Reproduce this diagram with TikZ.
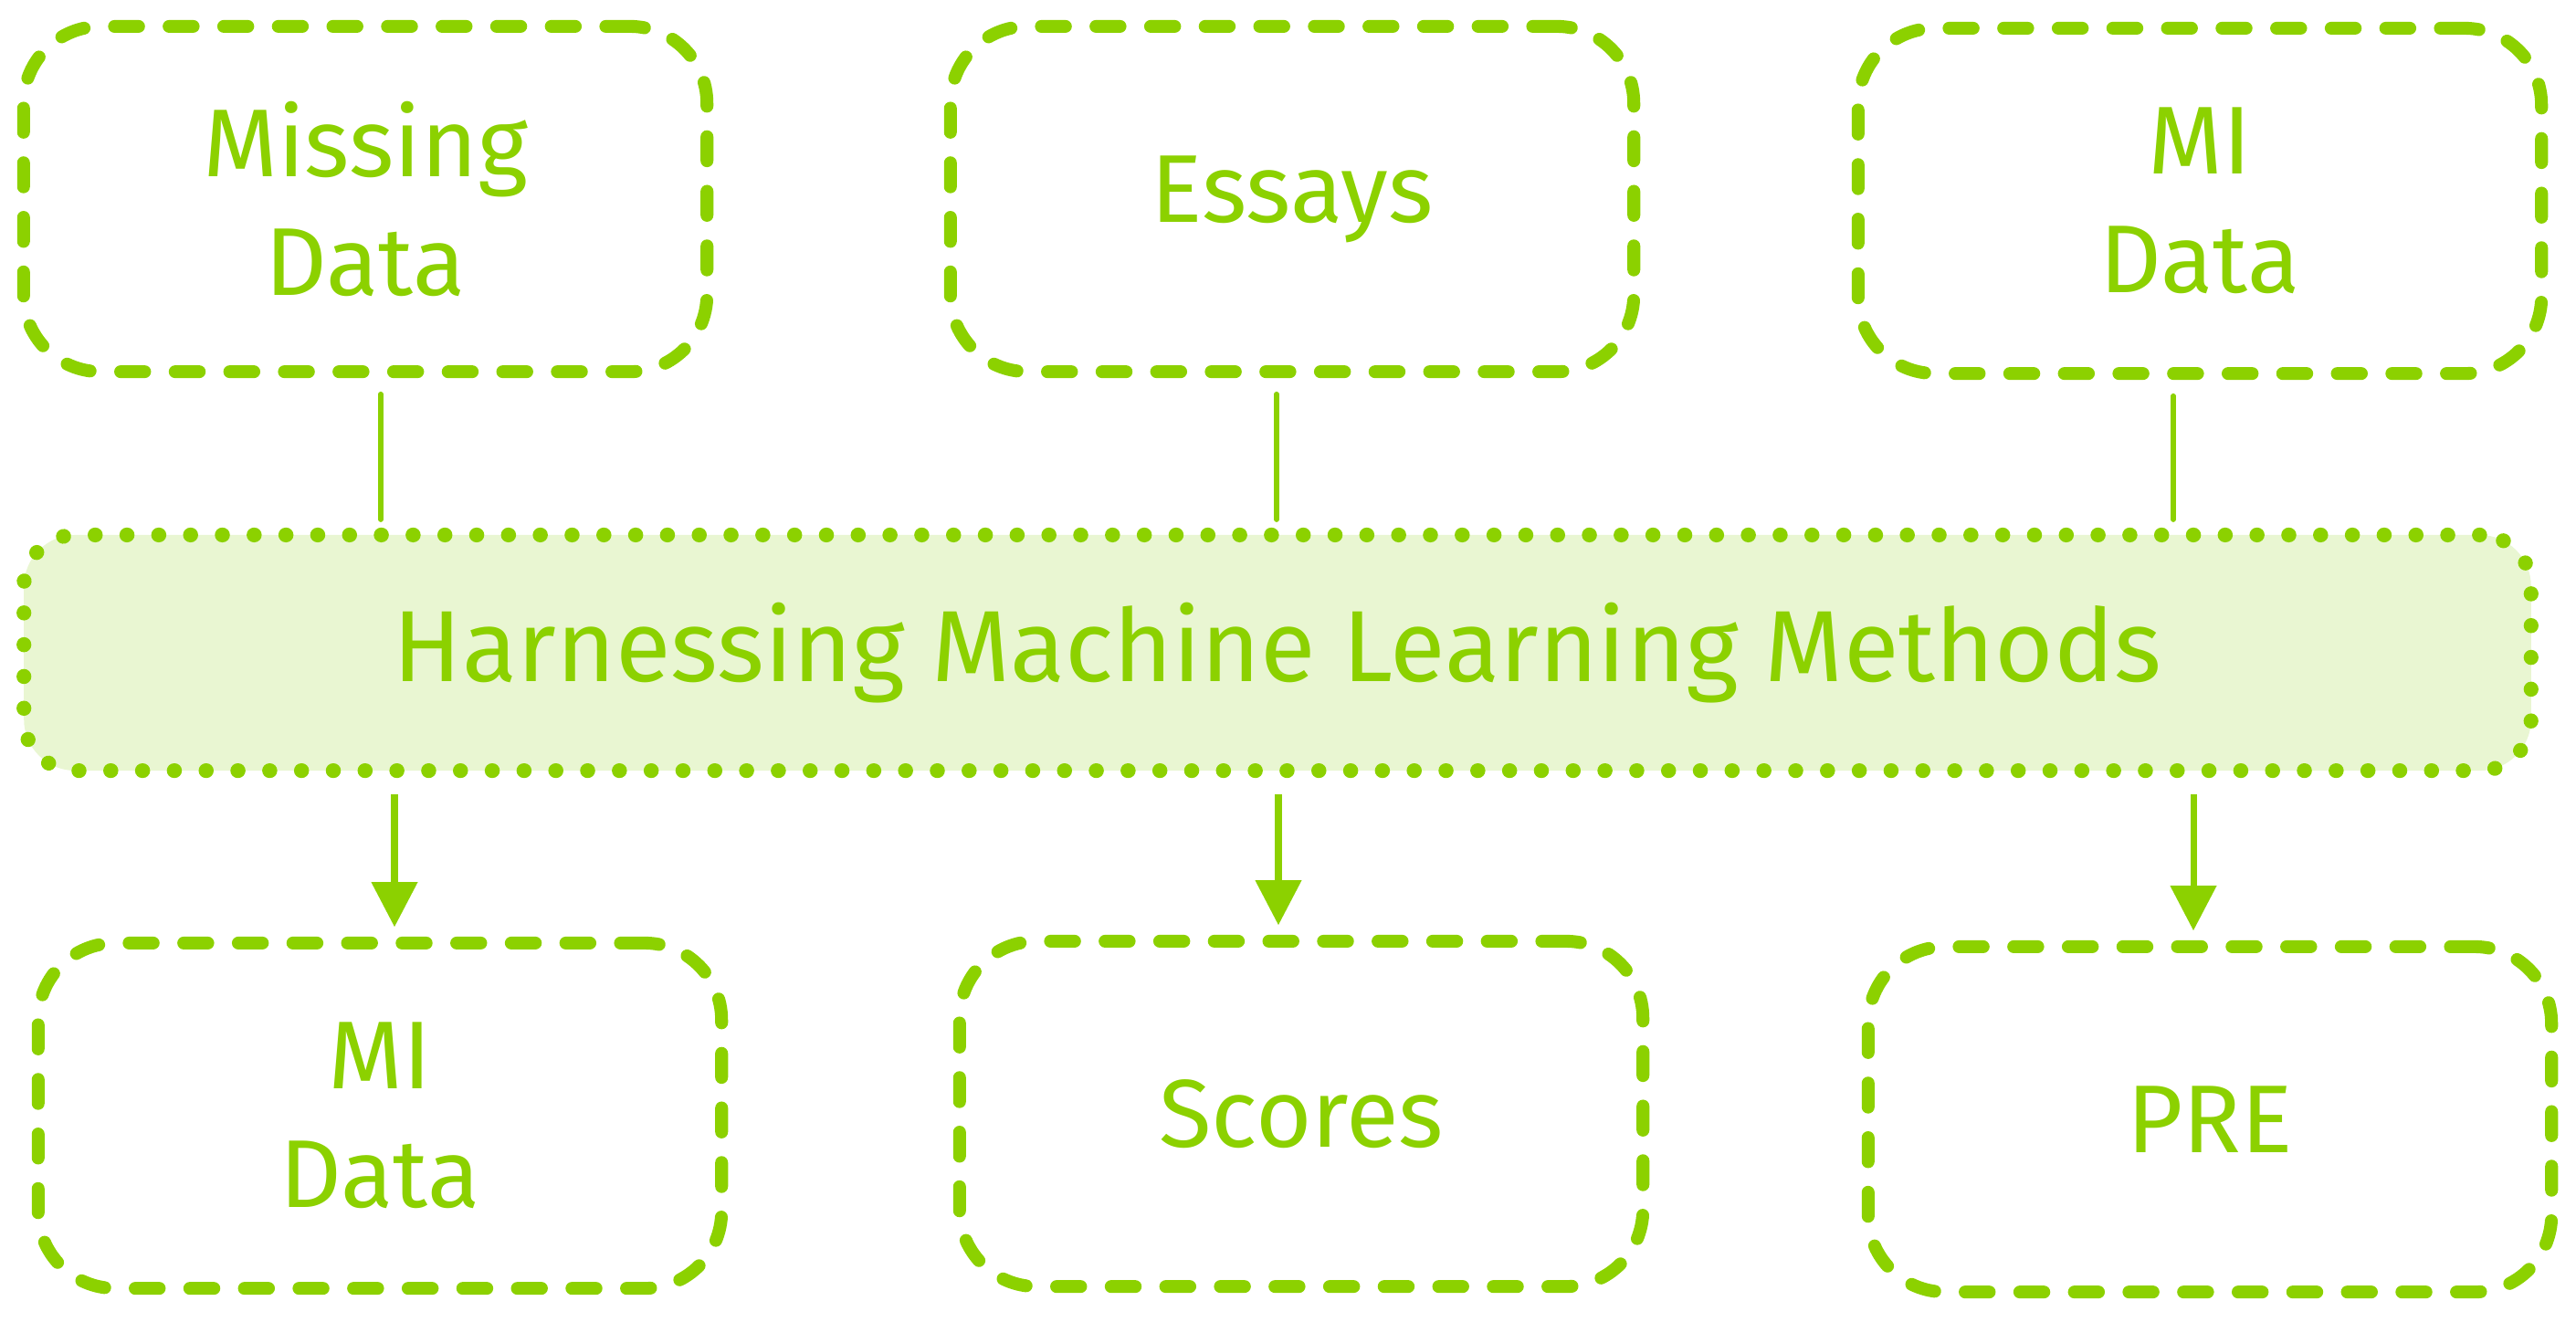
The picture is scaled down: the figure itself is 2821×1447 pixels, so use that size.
\documentclass[tikz,border=0pt]{standalone}
\usepackage{fontspec}
\setmainfont{Fira Sans}
\usepackage{xcolor}
\usetikzlibrary{positioning,arrows.meta}
\definecolor{leaf}{RGB}{140,209,0}
\definecolor{leaflight}{RGB}{233,246,210}

\begin{document}
\begin{tikzpicture}[x=0.01cm, y=-0.01cm,
    box/.style={draw=leaf, line width=4pt, line cap=round, dash pattern=on 7.5pt off 9.5pt,
        rounded corners=24pt, minimum width=7.48cm, minimum height=3.78cm, inner sep=0pt,
        text=leaf, align=center, font=\fontsize{30}{37}\selectfont},
    bar/.style={draw=leaf, fill=leaflight, line width=4.6pt, line cap=round, dash pattern=on 0.1pt off 9.8pt,
        rounded corners=16pt, minimum width=27.44cm, minimum height=2.58cm, inner sep=0pt,
        text=leaf, font=\fontsize{31.5}{37}\selectfont},
    link/.style={draw=leaf, line width=1.6pt, line cap=round, shorten <=5pt, shorten >=2.5pt},
    arrowlink/.style={draw=leaf, line width=2pt, -{Triangle[length=14pt,width=14pt]}, shorten <=5pt, shorten >=3pt}]
    \useasboundingbox (0,0) rectangle (2821,1447);

    % inputs
    \node[box] (missing) at (400,218) {Missing\\Data};
    \node[box] (essays) at (1415,218) {Essays};
    \node[box] (mitop) at (2409,220) {MI\\Data};

    % methods
    \node[bar] (methods) at (1399,715) {Harnessing Machine Learning Methods};

    % outputs
    \node[box] (midata) at (416,1222) {MI\\Data};
    \node[box] (scores) at (1425,1220) {Scores};
    \node[box] (pre) at (2420,1226) {PRE};

    \draw[link] ([xshift=0.17cm]missing.south) -- ([xshift=0.17cm]missing.south |- methods.north);
    \draw[link] ([xshift=-0.17cm]essays.south) -- ([xshift=-0.17cm]essays.south |- methods.north);
    \draw[link] ([xshift=-0.29cm]mitop.south) -- ([xshift=-0.29cm]mitop.south |- methods.north);

    \draw[arrowlink] ([xshift=0.16cm]midata.north |- methods.south) -- ([xshift=0.16cm]midata.north);
    \draw[arrowlink] ([xshift=-0.25cm]scores.north |- methods.south) -- ([xshift=-0.25cm]scores.north);
    \draw[arrowlink] ([xshift=-0.18cm]pre.north |- methods.south) -- ([xshift=-0.18cm]pre.north);
\end{tikzpicture}
\end{document}
